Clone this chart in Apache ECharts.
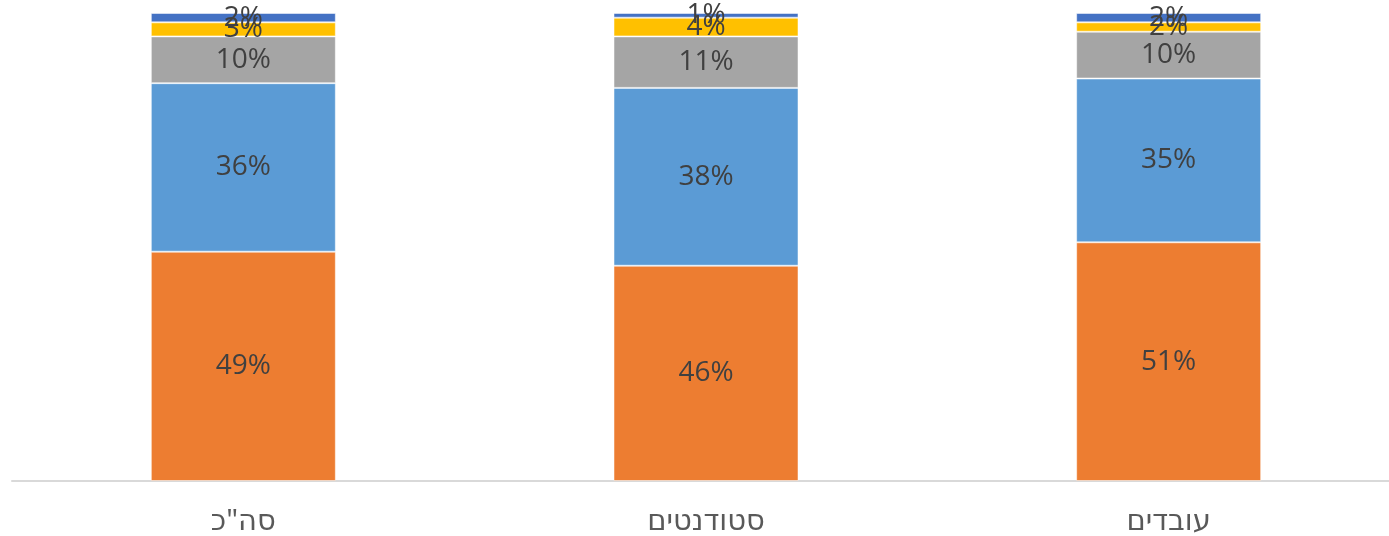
<!DOCTYPE html>
<html>
<head>
<meta charset="utf-8">
<script src="https://cdn.jsdelivr.net/npm/echarts@6/dist/echarts.min.js"></script>
<style>
html,body{margin:0;padding:0;background:#fff;}
#chart{width:1389px;height:536px;}
</style>
</head>
<body>
<div id="chart"></div>
<script>
const categories = ['סה"כ', 'סטודנטים', 'עובדים'];
const seriesOrange = [49, 46, 51];
const seriesLightBlue = [36, 38, 35];
const seriesGray = [10, 11, 10];
const seriesYellow = [3, 4, 2];
const seriesDarkBlue = [2, 1, 2];
const seriesNames = ['1', '2', '3', '4', '5'];
const colors = ['#ED7D31', '#5B9BD5', '#A5A5A5', '#FFC000', '#4472C4'];

const allData = [seriesOrange, seriesLightBlue, seriesGray, seriesYellow, seriesDarkBlue];
const font = "'Open Sans', 'Noto Sans', 'DejaVu Sans', sans-serif";
const catFont = "'Noto Sans', 'DejaVu Sans', sans-serif";

const chart = echarts.init(document.getElementById('chart'), null, {renderer: 'canvas'});
chart.setOption({
  animation: false,
  grid: {left: 12, width: 1388, top: 13, bottom: 55, containLabel: false, outerBoundsMode: 'none'},
  xAxis: {
    type: 'category',
    data: categories,
    axisLine: {lineStyle: {color: '#D9D9D9', width: 2}},
    axisTick: {show: false},
    axisLabel: {color: '#595959', fontSize: 29, fontFamily: catFont, margin: 26}
  },
  yAxis: {
    type: 'value', min: 0, max: 100, interval: 20,
    show: false,
    splitLine: {show: false}
  },
  series: allData.map((d, i) => ({
    name: seriesNames[i],
    type: 'bar',
    stack: 'total',
    data: d,
    barWidth: 185,
    itemStyle: {color: colors[i], borderColor: 'rgba(255,255,255,0.5)', borderWidth: 1},
    label: {
      show: true,
      position: 'inside',
      formatter: p => p.value + '%',
      color: '#404040',
      fontSize: 28,
      fontFamily: font
    }
  }))
});
</script>
</body>
</html>
